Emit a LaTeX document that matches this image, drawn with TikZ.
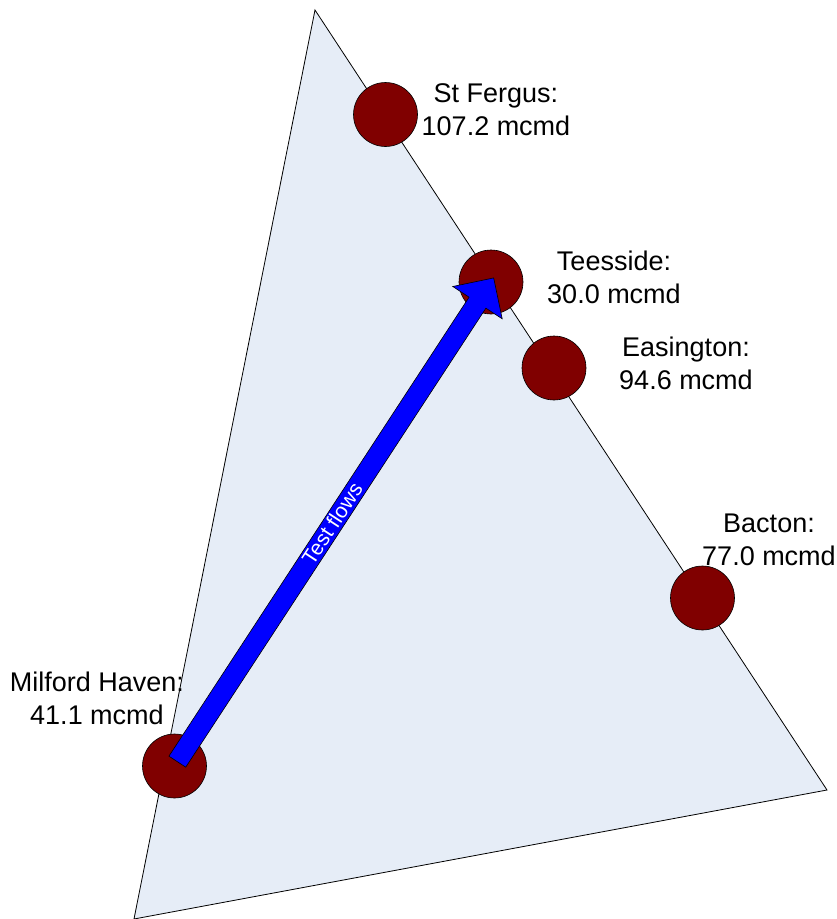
\documentclass[tikz,border=0pt]{standalone}
\usepackage{fontspec}
\setmainfont{Liberation Sans}
\usetikzlibrary{positioning,shapes.arrows}
\definecolor{panelblue}{RGB}{230,237,247}
\definecolor{termred}{RGB}{128,0,0}
\definecolor{flowblue}{RGB}{0,0,255}

\begin{document}
\begin{tikzpicture}[x=1pt,y=-1pt,
  terminal/.style={draw,fill=termred,circle,inner sep=0pt,minimum size=64pt,line width=0.6pt},
  lbl/.style={align=center,inner sep=0pt,font=\fontsize{27}{33}\selectfont}]
\useasboundingbox (0,0) rectangle (837,919);

\filldraw[fill=panelblue,line width=0.8pt]
(315,10) coordinate (apex) --
(827,790) coordinate (east) --
(134,919) coordinate (south) -- cycle;

\node[terminal] (sf) at (385.5,114.5) {};
\node[terminal] (ts) at (491,282) {};
\node[terminal] (ea) at (554,368) {};
\node[terminal] (ba) at (702.5,598) {};
\node[terminal] (mh) at (174.5,766) {};

\node[lbl] (sflbl) at (496,110) {St Fergus:\\107.2 mcmd};
\node[lbl] (tslbl) at (614,277.5) {Teesside:\\30.0 mcmd};
\node[lbl] (ealbl) at (686,363) {Easington:\\94.6 mcmd};
\node[lbl] (balbl) at (769,540) {Bacton:\\77.0 mcmd};
\node[lbl] (mhlbl) at (97,698) {Milford Haven:\\41.1 mcmd};

\path (mh.center) -- (ts.center)
node[midway,sloped,single arrow,draw,fill=flowblue,text=white,line width=0.6pt,
  minimum height=578pt,inner xsep=0pt,inner ysep=1.5pt,text height=15pt,text depth=1.5pt,
  single arrow head extend=19.5pt,font=\fontsize{21}{21}\selectfont] (flow) {Test flows};

\end{tikzpicture}
\end{document}
